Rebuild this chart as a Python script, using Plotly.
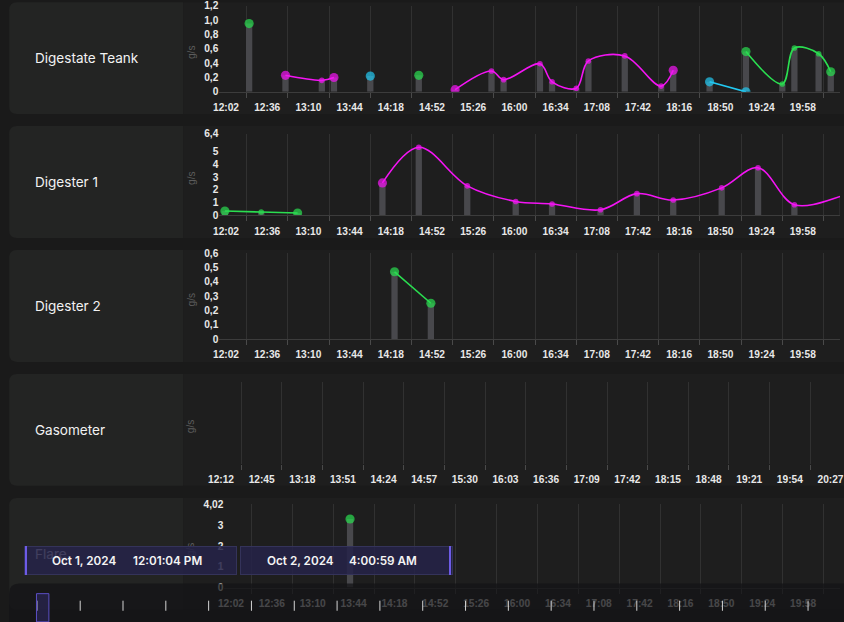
import plotly.graph_objects as go

# Figure fills the 844x622 window. All positions below are given in the reference
# picture's pixels and mapped onto the page through a measured photo transform
# (picture = A + S * page), so that the photographed result lines up with the reference.
W, H = 844, 622
SX, AX = 0.9814, 7.85
SY, AY = 0.9749, 7.8
DAY = "2024-10-01"
SEC = ":04"

# ---------------- data ----------------
PANEL_NAMES = ["Digestate Teank", "Digester 1", "Digester 2", "Gasometer", "Flare"]
UNIT_LABEL = "g/s"

# Digestate Teank
DT_TIME = ["12:21", "12:51", "13:21", "13:31", "14:01", "14:41",
           "15:11", "15:41", "15:51", "16:21", "16:31", "16:51", "17:01", "17:31", "18:01", "18:11",
           "18:41", "19:11",
           "19:11", "19:41", "19:51", "20:11", "20:21"]
DT_VALUE = [0.95, 0.23, 0.16, 0.20, 0.22, 0.23,
            0.03, 0.29, 0.17, 0.39, 0.14, 0.05, 0.43, 0.50, 0.08, 0.30,
            0.14, 0.0,
            0.56, 0.11, 0.61, 0.53, 0.28]
DT_SEGMENT = [0, 1, 1, 1, 2, 3, 4, 4, 4, 4, 4, 4, 4, 4, 4, 4, 5, 5, 6, 6, 6, 6, 6]
DT_STATE = ["green", "magenta", "cyan", "green", "magenta", "cyan", "green"]

# Digester 1
D1_TIME = ["12:01", "12:31", "13:01", "14:11", "14:41", "15:21", "16:01", "16:31",
           "17:11", "17:41", "18:11", "18:51", "19:21", "19:51", "20:31", "20:41"]
D1_VALUE = [0.35, 0.27, 0.19, 2.55, 5.34, 2.32, 1.10, 0.90,
            0.45, 1.71, 1.21, 2.16, 3.74, 0.84, 1.55, 1.85]
D1_SEGMENT = [0, 0, 0, 1, 1, 1, 1, 1, 1, 1, 1, 1, 1, 1, 1, 1]
D1_STATE = ["green", "magenta"]

# Digester 2
D2_TIME = ["14:21", "14:51"]
D2_VALUE = [0.47, 0.25]
D2_SEGMENT = [0, 0]
D2_STATE = ["green"]

# Gasometer (no data)
GS_TIME = []
GS_VALUE = []
GS_SEGMENT = []
GS_STATE = []

# Flare
FL_TIME = ["13:41"]
FL_VALUE = [3.31]
FL_SEGMENT = [0]
FL_STATE = ["green"]

# y tick labels
DT_YTICKS = [0, 0.2, 0.4, 0.6, 0.8, 1.0, 1.2]
DT_YLABELS = ["0", "0,2", "0,4", "0,6", "0,8", "1,0", "1,2"]
D1_YTICKS = [0, 1, 2, 3, 4, 5, 6.4]
D1_YLABELS = ["0", "1", "2", "3", "4", "5", "6,4"]
D2_YTICKS = [0, 0.1, 0.2, 0.3, 0.4, 0.5, 0.6]
D2_YLABELS = ["0", "0,1", "0,2", "0,3", "0,4", "0,5", "0,6"]
GS_YTICKS = []
GS_YLABELS = []
FL_YTICKS = [0, 1, 2, 3, 4.02]
FL_YLABELS = ["0", "1", "2", "3", "4,02"]

# time axes
TIME_RANGE = ["11:56:28", "20:28:42"]
TIME_TICK_START = "12:02"
TIME_TICK_STEP_MIN = 34
GAS_RANGE = ["12:10:37", "20:34:42"]
GAS_TICK_START = "12:12"
GAS_TICK_STEP_MIN = 33

RANGE_START = ["Oct 1, 2024", "12:01:04 PM"]
RANGE_END = ["Oct 2, 2024", "4:00:59 AM"]

# ---------------- style ----------------
STATE_COLOR = {"green": "#2ade50", "magenta": "#f414f4", "cyan": "#22c9f2"}
BAR_COLOR = "#48484c"
GRID = "#313131"
TICKC = "#4a4a4a"
PAGE_BG = "#1a1a1a"
CARD_LEFT = "#232423"
CARD_RIGHT = "#1e1e1e"
K = 1 / SX  # size compensation
TICK_FONT = dict(family="Liberation Sans Narrow, Liberation Sans, Arial, sans-serif",
                 size=10 * K, color="#e8e8e8", weight="bold")

PANEL_TOP = [5, 128, 251, 374, 497]
CARD_H = 111
PLOT_Y = [(94, 8.4), (216.7, 135.5), (339.3, 254.1), (463.5, 381.7), (586, 503.3)]
PLOT_LEFT = [216, 216, 216, 216, 221]


def fx(x):
    return ((x - AX) / SX) / W


def fy(y):
    return 1 - ((y - AY) / SY) / H


def ts(t):
    return f"{DAY} {t}" if t.count(":") == 2 else f"{DAY} {t}{SEC}"


def tr(t):
    return f"{DAY} {t}" if t.count(":") == 2 else f"{DAY} {t}:00"


PANELS = [
    (DT_TIME, DT_VALUE, DT_SEGMENT, DT_STATE, DT_YTICKS, DT_YLABELS),
    (D1_TIME, D1_VALUE, D1_SEGMENT, D1_STATE, D1_YTICKS, D1_YLABELS),
    (D2_TIME, D2_VALUE, D2_SEGMENT, D2_STATE, D2_YTICKS, D2_YLABELS),
    (GS_TIME, GS_VALUE, GS_SEGMENT, GS_STATE, GS_YTICKS, GS_YLABELS),
    (FL_TIME, FL_VALUE, FL_SEGMENT, FL_STATE, FL_YTICKS, FL_YLABELS),
]

fig = go.Figure()
layout = dict(
    width=W, height=H, margin=dict(l=0, r=0, t=0, b=0), autosize=False,
    paper_bgcolor=PAGE_BG, plot_bgcolor="rgba(0,0,0,0)",
    showlegend=False, barmode="overlay", hovermode=False,
    font=dict(family="Liberation Sans, Arial, sans-serif", color="#e6e6e6"),
)

shapes = []
annotations = []

for i, (times, vals, segs, states, yt, yl) in enumerate(PANELS):
    n = i + 1
    xa = "x" if n == 1 else f"x{n}"
    ya = "y" if n == 1 else f"y{n}"
    xkey = "xaxis" if n == 1 else f"xaxis{n}"
    ykey = "yaxis" if n == 1 else f"yaxis{n}"
    ybot, ytop = PLOT_Y[i]
    is_gas = (len(times) == 0)

    if is_gas:
        rng = [tr(GAS_RANGE[0]), tr(GAS_RANGE[1])]
        t0, step = GAS_TICK_START, GAS_TICK_STEP_MIN
    else:
        rng = [tr(TIME_RANGE[0]), tr(TIME_RANGE[1])]
        t0, step = TIME_TICK_START, TIME_TICK_STEP_MIN
    step_ms = step * 60 * 1000
    h, m = map(int, t0.split(":"))
    mh = h * 60 + m + step / 2
    minor0 = f"{DAY} {int(mh // 60):02d}:{int(mh % 60):02d}:{int(round((mh % 1) * 60)):02d}"

    layout[xkey] = dict(
        type="date", domain=[fx(PLOT_LEFT[i]), 1], range=rng, anchor=ya,
        tickmode="linear", tick0=tr(t0), dtick=step_ms, tickformat="%H:%M",
        ticks="outside", ticklen=6, tickcolor="rgba(0,0,0,0)",
        ticklabeloverflow="allow",
        showgrid=False, zeroline=False,
        showline=not is_gas, linecolor="#3c3c3c", linewidth=1,
        tickfont=TICK_FONT, fixedrange=True,
        minor=dict(tick0=minor0, dtick=step_ms, showgrid=True, gridcolor=GRID, gridwidth=1,
                   ticks="outside", ticklen=5, tickcolor=TICKC, tickwidth=1),
    )
    ymax = yt[-1] if yt else 1
    layout[ykey] = dict(
        domain=[fy(ybot), min(1, fy(ytop))], range=[0, ymax], anchor=xa,
        tickmode="array", tickvals=yt, ticktext=yl, ticks="",
        showgrid=False, zeroline=False, showline=False,
        showticklabels=bool(yt), ticklabeloverflow="allow",
        tickfont=TICK_FONT, fixedrange=True,
    )

    if is_gas:
        # empty trace so the data-less subplot and its grid are drawn
        fig.add_trace(go.Scatter(x=[ts(t) for t in times], y=vals, xaxis=xa, yaxis=ya,
                                 mode="markers", hoverinfo="skip"))
    else:
        fig.add_trace(go.Bar(
            x=[ts(t) for t in times], y=vals, xaxis=xa, yaxis=ya,
            width=312000, marker=dict(color=BAR_COLOR, line=dict(width=0)),
            hoverinfo="skip",
        ))
        for s, state in enumerate(states):
            idx = [k for k, sg in enumerate(segs) if sg == s]
            sx = [ts(times[k]) for k in idx]
            sy = [vals[k] for k in idx]
            cnt = len(idx)
            sizes = [9 * K if (j == 0 or j == cnt - 1) else 5.5 * K for j in range(cnt)]
            col = STATE_COLOR[state]
            fig.add_trace(go.Scatter(
                x=sx, y=sy, xaxis=xa, yaxis=ya,
                mode="lines+markers" if cnt > 1 else "markers",
                line=dict(color=col, width=1.6, shape="spline", smoothing=1),
                marker=dict(color=col, size=sizes, line=dict(width=0)),
                cliponaxis=True, hoverinfo="skip",
            ))

    # card backgrounds
    T = PANEL_TOP[i]
    B = T + CARD_H
    r = 8
    L, M = 6, 180
    path = (f"M {fx(L + r)},{fy(T)} L {fx(M)},{fy(T)} L {fx(M)},{fy(B)} L {fx(L + r)},{fy(B)} "
            f"Q {fx(L)},{fy(B)} {fx(L)},{fy(B - r)} L {fx(L)},{fy(T + r)} Q {fx(L)},{fy(T)} {fx(L + r)},{fy(T)} Z")
    shapes.append(dict(type="path", xref="paper", yref="paper", path=path,
                       fillcolor=CARD_LEFT, line=dict(width=0), layer="below"))
    shapes.append(dict(type="rect", xref="paper", yref="paper", x0=fx(M), x1=fx(880),
                       y0=fy(B), y1=fy(T), fillcolor=CARD_RIGHT, line=dict(width=0), layer="below"))

    # panel name
    annotations.append(dict(xref="paper", yref="paper", x=fx(30), y=fy(T + CARD_H / 2),
                            xanchor="left", yanchor="middle", showarrow=False,
                            text=PANEL_NAMES[i],
                            font=dict(family="Inter, Roboto, sans-serif", size=13.3 * K, color="#f2f2f2")))
    # unit label
    annotations.append(dict(xref="paper", yref="paper", x=fx(188), y=fy((ybot + ytop) / 2 + 3),
                            xanchor="center", yanchor="middle", showarrow=False, textangle=-90,
                            text=UNIT_LABEL,
                            font=dict(family="Liberation Sans, Arial, sans-serif", size=10 * K, color="#5c5c5c")))

# ---- bottom timeline overlay ----
oT, oL, rr = 582, 6, 10
opath = (f"M {fx(oL + rr)},{fy(oT)} L {fx(880)},{fy(oT)} L {fx(880)},{fy(650)} L {fx(oL)},{fy(650)} "
         f"L {fx(oL)},{fy(oT + rr)} Q {fx(oL)},{fy(oT)} {fx(oL + rr)},{fy(oT)} Z")
shapes.append(dict(type="path", xref="paper", yref="paper", path=opath,
                   fillcolor="rgba(20,20,22,0.76)", line=dict(width=0), layer="above"))
TL_START, TL_STEP, TL_COUNT = 34.2, 42.78, 20
for k in range(TL_COUNT):
    xk = TL_START + k * TL_STEP
    shapes.append(dict(type="line", xref="paper", yref="paper", x0=fx(xk), x1=fx(xk),
                       y0=fy(599), y1=fy(609), line=dict(color="#d4d4d4", width=1), layer="above"))
shapes.append(dict(type="rect", xref="paper", yref="paper", x0=fx(33.3), x1=fx(45.7),
                   y0=fy(620), y1=fy(592), fillcolor="rgba(48,42,100,0.55)",
                   line=dict(color="#5b4fc4", width=1), layer="above"))

# ---- date range boxes ----
BOX_Y0, BOX_Y1 = 545, 573.5
for (bx0, bx1, edge_x) in [(22.7, 231.3, 23.2), (238.3, 447.3, 446.6)]:
    annotations.append(dict(xref="paper", yref="paper", x=fx((bx0 + bx1) / 2), y=fy((BOX_Y0 + BOX_Y1) / 2),
                            xanchor="center", yanchor="middle", showarrow=False, text=" ",
                            width=(bx1 - bx0) / SX - 2, height=(BOX_Y1 - BOX_Y0) / SY - 2, borderpad=0,
                            bgcolor="rgba(38,36,72,0.87)", bordercolor="#34335a", borderwidth=1))
    annotations.append(dict(xref="paper", yref="paper", x=fx(edge_x), y=fy((BOX_Y0 + BOX_Y1) / 2),
                            xanchor="center", yanchor="middle", showarrow=False, text=" ",
                            width=1.6, height=(BOX_Y1 - BOX_Y0) / SY, borderpad=0, borderwidth=0,
                            bgcolor="#6d5be6"))

BOX_FONT = dict(family="Inter, Roboto, sans-serif", size=11.5 * K, color="#f4f4f4", weight=600)
for (txt, cx) in [(RANGE_START[0], 81), (RANGE_START[1], 164), (RANGE_END[0], 297), (RANGE_END[1], 380)]:
    annotations.append(dict(xref="paper", yref="paper", x=fx(cx), y=fy(559.5),
                            xanchor="center", yanchor="middle", showarrow=False,
                            text=txt, font=BOX_FONT))

layout["shapes"] = shapes
layout["annotations"] = annotations
fig.update_layout(**layout)
fig.write_html(
    "out.html",
    config={"displayModeBar": False, "responsive": False},
    post_script=["document.body.style.margin='0px';document.body.style.overflow='hidden';"
                 "document.body.style.background='#1a1a1a';"
                 "document.documentElement.style.background='#1a1a1a';"],
)
